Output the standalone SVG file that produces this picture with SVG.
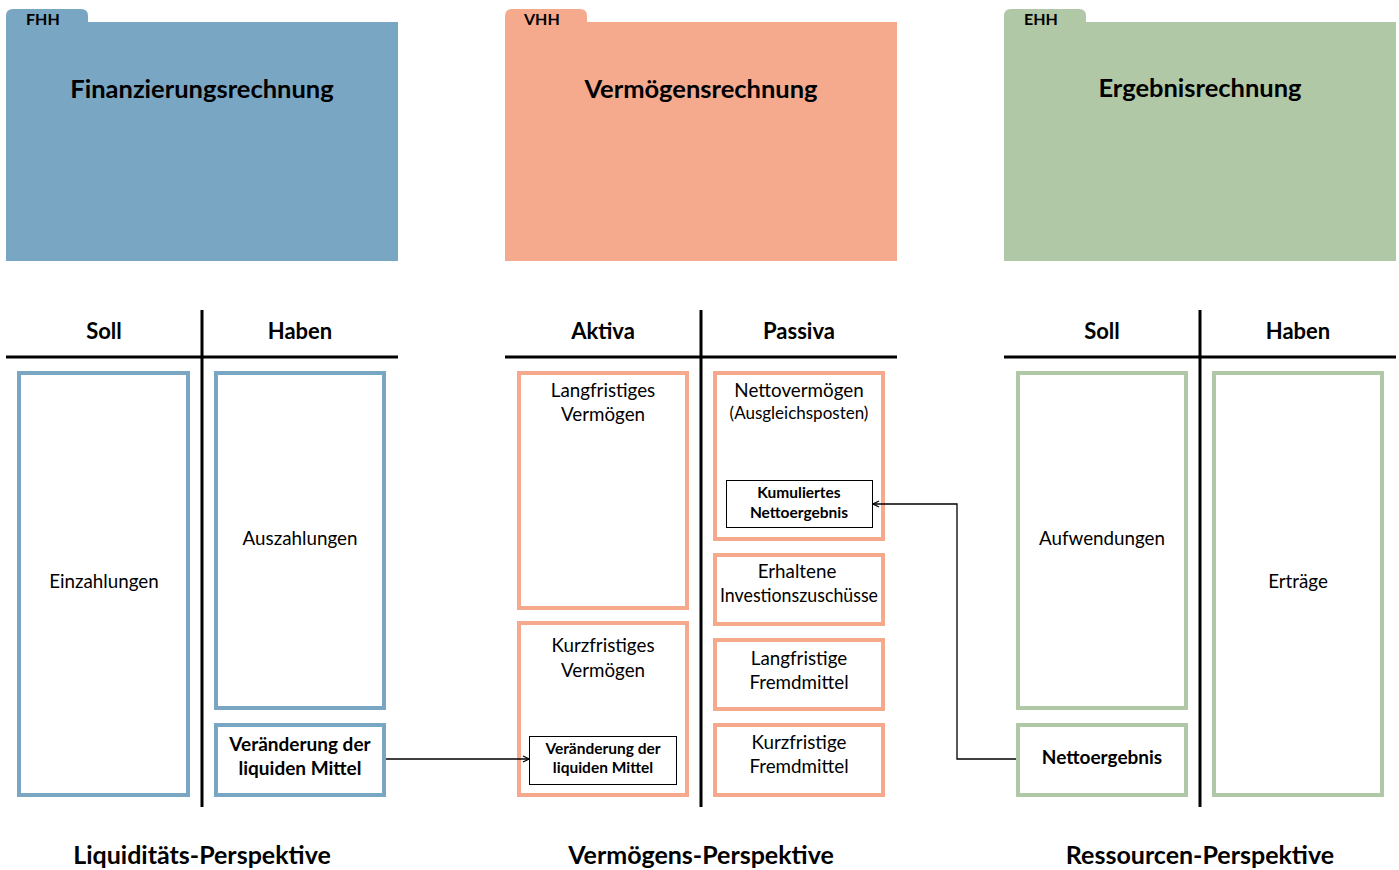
<svg xmlns="http://www.w3.org/2000/svg" width="1399" height="870" viewBox="0 0 1399 870">
<style>
text{font-family:Lato,"Open Sans","Liberation Sans",sans-serif;fill:#000;text-anchor:middle}
.title{font-size:25.5px;font-weight:bold}
.tab{font-size:16px;font-weight:bold;text-anchor:start}
.hdr{font-size:22px;font-weight:bold}
.body{font-size:18.8px}
.bb{font-size:19px;font-weight:bold}
.sm{font-size:15.5px;font-weight:bold}
.persp{font-size:25px;font-weight:bold}
.blue{fill:#fff;stroke:#79a6c2;stroke-width:4}
.sal{fill:#fff;stroke:#f5aa8e;stroke-width:4}
.grn{fill:#fff;stroke:#b1c8a6;stroke-width:4}
.inner{fill:#fff;stroke:#000;stroke-width:1}
.tline{stroke:#000;stroke-width:3}
.conn{fill:none;stroke:#000;stroke-width:1.3}
</style>
<defs>
<marker id="ah" markerWidth="8" markerHeight="8" refX="7" refY="4" orient="auto" markerUnits="userSpaceOnUse">
<path d="M1,1 L7,4 L1,7" fill="none" stroke="#000" stroke-width="1.2"/>
</marker>
</defs>

<g id="folder-fhh">
<path d="M6,22 V16 Q6,9 13,9 H81 Q88,9 88,16 V22 Z" fill="#79a6c2"/>
<rect x="6" y="22" width="392" height="239" fill="#79a6c2"/>
<text class="tab" x="26" y="25">FHH</text>
<text class="title" x="202" y="98">Finanzierungsrechnung</text>
</g>
<g id="folder-vhh">
<path d="M505,22 V16 Q505,9 512,9 H580 Q587,9 587,16 V22 Z" fill="#f5aa8e"/>
<rect x="505" y="22" width="392" height="239" fill="#f5aa8e"/>
<text class="tab" x="524" y="25">VHH</text>
<text class="title" x="701" y="98">Vermögensrechnung</text>
</g>
<g id="folder-ehh">
<path d="M1004,22 V16 Q1004,9 1011,9 H1079 Q1086,9 1086,16 V22 Z" fill="#b1c8a6"/>
<rect x="1004" y="22" width="392" height="239" fill="#b1c8a6"/>
<text class="tab" x="1024" y="25">EHH</text>
<text class="title" x="1200" y="97">Ergebnisrechnung</text>
</g>

<g id="taccount-fhh">
<line class="tline" x1="6" y1="357" x2="398" y2="357"/>
<line class="tline" x1="202" y1="310" x2="202" y2="807"/>
<text class="hdr" x="104" y="339">Soll</text>
<text class="hdr" x="300" y="339">Haben</text>
</g>
<g id="taccount-vhh">
<line class="tline" x1="505" y1="357" x2="897" y2="357"/>
<line class="tline" x1="701" y1="310" x2="701" y2="807"/>
<text class="hdr" x="603" y="339">Aktiva</text>
<text class="hdr" x="799" y="339">Passiva</text>
</g>
<g id="taccount-ehh">
<line class="tline" x1="1004" y1="357" x2="1396" y2="357"/>
<line class="tline" x1="1200" y1="310" x2="1200" y2="807"/>
<text class="hdr" x="1102" y="339">Soll</text>
<text class="hdr" x="1298" y="339">Haben</text>
</g>

<g id="einzahlungen"><rect class="blue" x="19" y="373" width="169" height="422"/><text class="body" x="104" y="588">Einzahlungen</text></g>
<g id="auszahlungen"><rect class="blue" x="216" y="373" width="168" height="335"/><text class="body" x="300" y="545">Auszahlungen</text></g>
<g id="veraenderung-fhh"><rect class="blue" x="216" y="725" width="168" height="70"/><text class="bb" x="300" y="751">Veränderung der</text><text class="bb" x="300" y="775">liquiden Mittel</text></g>

<g id="langfristiges-vermoegen"><rect class="sal" x="519" y="373" width="168" height="235"/><text class="body" x="603" y="397">Langfristiges</text><text class="body" x="603" y="421">Vermögen</text></g>
<g id="kurzfristiges-vermoegen"><rect class="sal" x="519" y="623" width="168" height="172"/><text class="body" x="603" y="652">Kurzfristiges</text><text class="body" x="603" y="677">Vermögen</text></g>
<g id="veraenderung-vhh"><rect class="inner" x="529.5" y="736.5" width="147" height="48"/><text class="sm" x="603" y="754">Veränderung der</text><text class="sm" x="603" y="773">liquiden Mittel</text></g>

<g id="nettovermoegen"><rect class="sal" x="715" y="373" width="168" height="166"/><text class="body" x="799" y="397">Nettovermögen</text><text class="body" x="799" y="419" style="font-size:17px">(Ausgleichsposten)</text></g>
<g id="kumuliertes-nettoergebnis"><rect class="inner" x="726.5" y="480.5" width="146" height="47"/><text class="sm" x="799" y="498">Kumuliertes</text><text class="sm" x="799" y="518">Nettoergebnis</text></g>
<g id="investitionszuschuesse"><rect class="sal" x="715" y="555" width="168" height="69"/><text class="body" x="797" y="578">Erhaltene</text><text class="body" x="799" y="602" textLength="158" lengthAdjust="spacingAndGlyphs">Investionszuschüsse</text></g>
<g id="langfristige-fremdmittel"><rect class="sal" x="715" y="640" width="168" height="69"/><text class="body" x="799" y="665">Langfristige</text><text class="body" x="799" y="689">Fremdmittel</text></g>
<g id="kurzfristige-fremdmittel"><rect class="sal" x="715" y="725" width="168" height="70"/><text class="body" x="799" y="749">Kurzfristige</text><text class="body" x="799" y="773">Fremdmittel</text></g>

<g id="aufwendungen"><rect class="grn" x="1018" y="373" width="168" height="335"/><text class="body" x="1102" y="545">Aufwendungen</text></g>
<g id="nettoergebnis"><rect class="grn" x="1018" y="725" width="168" height="70"/><text class="bb" x="1102" y="764">Nettoergebnis</text></g>
<g id="ertraege"><rect class="grn" x="1214" y="373" width="168" height="422"/><text class="body" x="1298" y="588">Erträge</text></g>

<g id="connectors">
<path class="conn" d="M386,759 H529" marker-end="url(#ah)"/>
<path class="conn" d="M1016,759 H957 V504 H873" marker-end="url(#ah)"/>
</g>

<g id="perspectives">
<text class="persp" x="202" y="864">Liquiditäts-Perspektive</text>
<text class="persp" x="701" y="864">Vermögens-Perspektive</text>
<text class="persp" x="1200" y="864">Ressourcen-Perspektive</text>
</g>
</svg>
